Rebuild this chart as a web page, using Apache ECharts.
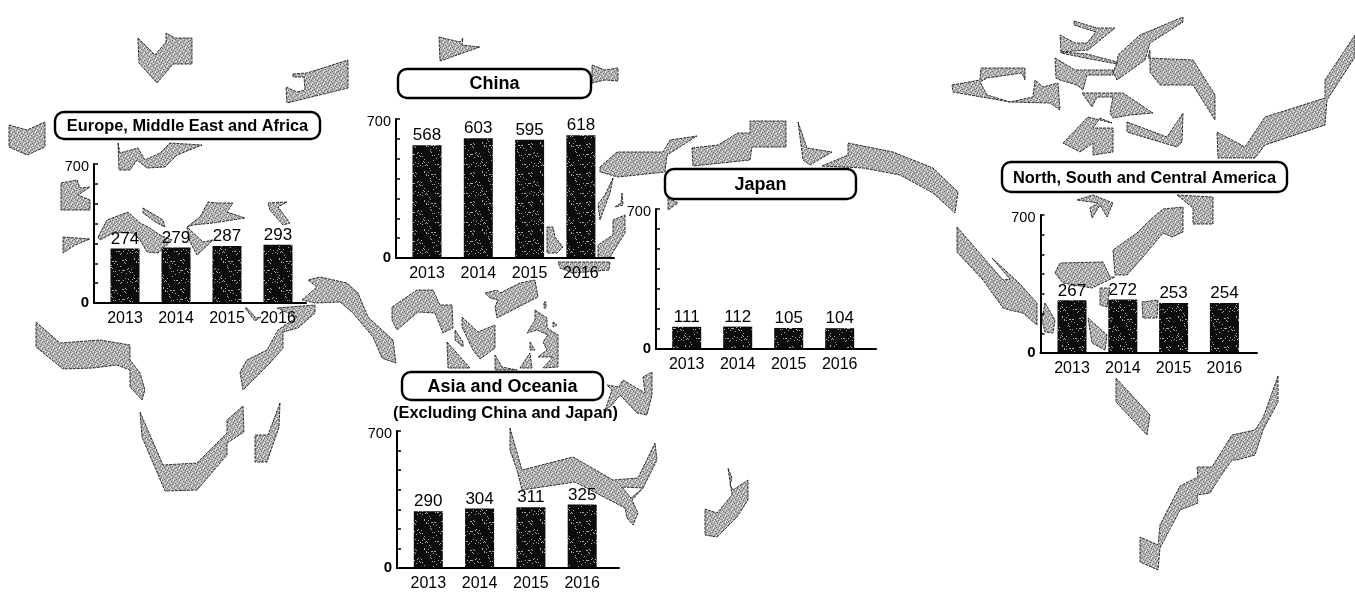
<!DOCTYPE html>
<html>
<head>
<meta charset="utf-8">
<style>html,body{margin:0;padding:0;background:#fff}#chart{width:1355px;height:592px}</style>
<script src="https://cdn.jsdelivr.net/npm/echarts@6/dist/echarts.min.js"></script>
</head>
<body>
<div id="chart"></div>
<script>
// Net sales by region, fiscal years 2013 to 2016
const years = [2013, 2014, 2015, 2016];
const europeValues = [274, 279, 287, 293];
const chinaValues = [568, 603, 595, 618];
const japanValues = [111, 112, 105, 104];
const asiaValues = [290, 304, 311, 325];
const americasValues = [267, 272, 253, 254];
const yTickLabels = [0, 700];

// Background world map, one outline per land mass, in canvas units
const landOutlines = [
  [[138,38],[155,55],[166,42],[166,33],[175,38],[192,38],[192,64],[173,64],[157,83],[139,63]],
  [[293,74],[307,73],[348,60],[348,88],[287,103],[286,87],[297,92],[305,90],[304,77],[293,77]],
  [[439,37],[460,42],[463,38],[462,45],[480,47],[440,61]],
  [[592,65],[605,70],[618,68],[618,81],[605,80],[592,83]],
  [[9,125],[27,130],[45,122],[45,147],[27,155],[9,147]],
  [[118,143],[120,153],[138,148],[145,160],[160,153],[170,143],[202,145],[177,155],[165,167],[147,168],[137,160],[130,170],[119,170]],
  [[61,183],[77,180],[80,188],[90,187],[78,195],[90,200],[90,210],[73,210],[61,210]],
  [[63,237],[90,239],[75,245],[63,253]],
  [[98,237],[107,220],[128,212],[140,223],[150,228],[160,235],[172,240],[158,253],[147,252],[140,240],[133,233],[115,232],[100,240]],
  [[143,208],[163,220],[165,227],[157,223],[143,213]],
  [[200,217],[208,202],[217,203],[233,203],[227,212],[245,218],[213,223],[193,225],[187,227],[203,242],[213,240],[197,255],[190,242],[187,227]],
  [[268,203],[287,202],[278,207],[290,223],[283,225],[270,210]],
  [[302,300],[317,287],[308,280],[320,277],[347,283],[358,293],[368,317],[382,330],[393,340],[396,363],[387,360],[382,358],[373,337],[353,313],[340,302],[315,303]],
  [[315,305],[315,313],[298,328],[283,332],[283,348],[270,363],[243,390],[240,372],[247,360],[267,350],[278,330],[297,317],[277,308]],
  [[245,308],[247,308],[256,318],[261,317],[255,321]],
  [[36,322],[60,343],[100,340],[130,345],[130,360],[140,373],[145,390],[142,400],[130,387],[130,370],[117,365],[93,368],[63,369],[36,347]],
  [[140,412],[163,465],[197,463],[227,433],[227,420],[243,406],[244,432],[227,443],[227,455],[197,490],[165,491],[142,437]],
  [[280,403],[279,427],[267,462],[255,462],[255,435],[268,435]],
  [[392,307],[417,290],[433,290],[440,305],[452,305],[453,328],[443,333],[435,313],[418,312],[397,330],[392,320]],
  [[455,330],[463,342],[463,347],[455,340]],
  [[462,317],[478,332],[495,325],[495,348],[480,359],[473,350],[462,327]],
  [[485,293],[497,290],[500,293],[520,283],[535,280],[538,297],[497,318],[495,307],[498,300],[490,298]],
  [[535,310],[547,318],[547,328],[558,335],[558,367],[543,368],[553,357],[538,357],[547,350],[543,342],[548,335],[537,330],[527,333],[535,320]],
  [[530,342],[535,350],[530,350]],
  [[553,322],[557,325],[553,327]],
  [[544,302],[546,302],[546,308],[544,308]],
  [[447,342],[470,368],[448,368]],
  [[495,355],[502,367],[517,370],[495,370]],
  [[520,368],[530,353],[532,368]],
  [[607,385],[619,387],[623,380],[645,393],[643,377],[652,372],[652,395],[647,415],[637,413],[620,395],[612,405],[605,410],[612,390]],
  [[600,167],[617,152],[663,152],[670,140],[697,136],[667,155],[665,172],[618,177],[600,172]],
  [[692,148],[718,145],[738,133],[750,133],[750,121],[786,121],[786,147],[752,147],[750,160],[693,166]],
  [[798,122],[807,148],[832,152],[810,165],[803,160]],
  [[822,166],[848,155],[848,143],[893,152],[933,168],[958,192],[955,213],[933,193],[900,175],[863,168]],
  [[613,178],[610,193],[600,220],[598,204],[605,195]],
  [[625,215],[625,233],[610,257],[598,258],[598,245],[613,235],[613,220]],
  [[558,262],[610,262],[609,270],[573,273],[560,268]],
  [[547,227],[553,227],[555,237],[563,247],[557,253],[547,253]],
  [[622,193],[623,205],[615,207],[621,203]],
  [[668,198],[678,203],[668,210]],
  [[1074,21],[1097,28],[1115,28],[1088,50],[1061,52],[1060,35],[1075,43],[1087,43],[1096,32],[1074,25]],
  [[1061,52],[1087,54],[1117,62],[1117,64],[1085,58],[1061,53]],
  [[1117,63],[1118,55],[1140,35],[1183,17],[1183,22],[1150,43],[1145,60],[1117,80],[1113,72]],
  [[1150,50],[1148,58],[1193,60],[1215,95],[1215,120],[1193,85],[1160,85],[1150,72]],
  [[1055,58],[1075,70],[1113,70],[1113,75],[1087,75],[1083,90],[1077,85],[1060,80],[1056,78]],
  [[952,85],[980,80],[981,68],[1025,68],[1025,80],[1022,73],[987,78],[980,82],[987,95],[1010,102],[1033,97],[1035,80],[1043,87],[1058,83],[1060,110],[1050,103],[1010,102],[953,92]],
  [[1082,93],[1123,93],[1153,113],[1130,115],[1113,118],[1110,113],[1113,97],[1097,97],[1092,107]],
  [[1063,143],[1088,117],[1112,123],[1100,118],[1093,128],[1113,128],[1113,152],[1093,155],[1093,143],[1080,152]],
  [[1127,122],[1167,137],[1183,113],[1182,142],[1177,147],[1127,132]],
  [[1217,132],[1245,147],[1265,117],[1325,98],[1325,80],[1355,35],[1355,57],[1327,100],[1325,125],[1265,145],[1255,158],[1218,158]],
  [[1177,195],[1213,197],[1213,224],[1193,224],[1193,208]],
  [[1183,207],[1183,232],[1172,237],[1163,233],[1143,257],[1127,275],[1115,275],[1113,250],[1137,233],[1150,220],[1163,209]],
  [[1077,200],[1093,195],[1113,203],[1107,217],[1100,205],[1092,218],[1090,208],[1098,203]],
  [[1055,273],[1060,263],[1103,262],[1110,277],[1115,277],[1092,288],[1063,283]],
  [[957,227],[983,257],[1003,280],[1010,279],[992,258],[1020,284],[1037,303],[1037,325],[1023,313],[1010,310],[1003,308],[983,280],[957,252]],
  [[1045,303],[1055,320],[1053,333],[1045,332],[1042,320]],
  [[1088,318],[1107,335],[1105,350],[1092,343]],
  [[1100,288],[1110,288],[1107,307],[1100,305]],
  [[1142,302],[1158,300],[1157,318],[1143,318]],
  [[1116,378],[1150,415],[1147,435],[1116,402]],
  [[1278,376],[1278,402],[1263,430],[1255,455],[1237,460],[1232,460],[1220,477],[1210,493],[1197,495],[1198,503],[1180,510],[1160,548],[1158,570],[1140,562],[1140,537],[1158,545],[1160,525],[1180,486],[1198,477],[1197,467],[1212,467],[1232,435],[1255,430],[1263,418]],
  [[510,428],[522,470],[573,457],[613,480],[638,478],[655,443],[657,460],[643,488],[622,487],[631,498],[643,488],[632,500],[638,513],[633,525],[627,518],[625,508],[600,495],[575,482],[522,490],[517,470],[510,450]],
  [[728,468],[732,478],[730,485],[733,490],[748,480],[748,500],[737,517],[717,537],[705,535],[705,509],[717,513],[732,495]]
];

// Repeating fills: stippled grey for land, fine speckle for bars
function landTile() {
  const c = document.createElement('canvas'); c.width = c.height = 6;
  const g = c.getContext('2d');
  g.fillStyle = '#b0b0b0'; g.fillRect(0, 0, 6, 6);
  g.fillStyle = '#747474';
  [[0,0],[3,1],[1,3],[4,4],[2,5],[5,2]].forEach(p => g.fillRect(p[0], p[1], 1, 1));
  g.fillStyle = '#e4e4e4';
  [[2,1],[5,0],[0,4],[3,3],[5,5],[1,2]].forEach(p => g.fillRect(p[0], p[1], 1, 1));
  return c;
}
function barTile() {
  const c = document.createElement('canvas'); c.width = c.height = 29;
  const g = c.getContext('2d');
  g.fillStyle = '#0c0c0c'; g.fillRect(0, 0, 29, 29);
  g.fillStyle = '#a8a8a8';
  for (let i = 0; i < 60; i++) g.fillRect((i * 17 + (i * i) % 5) % 29, (i * 11 + (i * i * 3) % 7) % 29, 1, 1);
  return c;
}
const landFill = { image: landTile(), repeat: 'repeat' };
const barFill = { image: barTile(), repeat: 'repeat' };

const FONT = '"Liberation Sans", Arial, sans-serif';

const panels = [
  { values: europeValues,   left: 94,  right: 306,  top: 164, bottom: 303, first: 125,   step: 51 },
  { values: chinaValues,    left: 396, right: 614,  top: 119, bottom: 258, first: 427,   step: 51.3 },
  { values: japanValues,    left: 656, right: 876,  top: 209, bottom: 349, first: 686.7, step: 51 },
  { values: asiaValues,     left: 397, right: 619,  top: 431, bottom: 571, first: 428.3, step: 51.3 },
  { values: americasValues, left: 1040.5, right: 1257, top: 215, bottom: 353, first: 1072, step: 50.8 }
];

const grids = [{ left: 0, top: 0, width: 1355, height: 592 }];
const xAxes = [{ type: 'value', gridIndex: 0, min: 0, max: 1355, show: false }];
const yAxes = [{ type: 'value', gridIndex: 0, min: 0, max: 592, inverse: true, show: false }];
const series = [{
  type: 'custom', xAxisIndex: 0, yAxisIndex: 0, z: 1, silent: true, clip: false,
  data: landOutlines.map((_, i) => [i]),
  renderItem: (params, api) => ({
    type: 'polygon',
    shape: { points: landOutlines[api.value(0)].map(p => api.coord(p)) },
    style: { fill: landFill, stroke: '#1c1c1c', lineWidth: 0.9, lineDash: [3, 1] }
  })
}];

panels.forEach((p, i) => {
  const n = i + 1;
  grids.push({ left: p.left, top: p.top, width: p.right - p.left, height: p.bottom - p.top });
  xAxes.push({
    type: 'value', gridIndex: n, z: 4,
    min: years[0] - (p.first - p.left) / p.step,
    max: years[0] + (p.right - p.first) / p.step,
    splitLine: { show: false },
    axisTick: { show: false },
    axisLine: { onZero: false, lineStyle: { color: '#000', width: 2 } },
    axisLabel: {
      customValues: years, formatter: v => String(v), margin: 8, color: '#000',
      fontFamily: FONT, fontSize: 16
    }
  });
  yAxes.push({
    type: 'value', gridIndex: n, z: 4, min: 0, max: 700, interval: 100,
    splitLine: { show: false },
    axisLine: { show: true, lineStyle: { color: '#000', width: 2 } },
    axisTick: { show: true, inside: true, length: 4, lineStyle: { color: '#000', width: 1.5 } },
    axisLabel: {
      margin: 5, color: '#000', fontFamily: FONT, fontSize: 14.5,
      formatter: v => {
        if (!yTickLabels.includes(v)) return '';
        return v === 0 ? '{zero|0}' : '{top|' + v + '}';
      },
      rich: {
        zero: { fontFamily: FONT, fontSize: 15, fontWeight: 'bold', color: '#000' },
        top: { fontFamily: FONT, fontSize: 14.5, color: '#000', padding: [6, 0, 0, 0] }
      }
    }
  });
  series.push({
    type: 'bar', xAxisIndex: n, yAxisIndex: n, z: 3, barWidth: 29, silent: true,
    data: p.values.map((v, k) => [years[k], v]),
    itemStyle: { color: barFill },
    label: {
      show: true, position: 'top', distance: 1, color: '#000',
      fontFamily: FONT, fontSize: 17,
      formatter: d => String(d.value[1])
    }
  });
});

// Rounded region captions
function caption(x0, x1, y0, y1, text, size) {
  return {
    type: 'group', z: 5,
    children: [
      { type: 'rect', shape: { x: x0, y: y0, width: x1 - x0, height: y1 - y0, r: 9 },
        style: { fill: '#fff', stroke: '#000', lineWidth: 2.4 }, z: 5 },
      { type: 'text', x: (x0 + x1) / 2, y: (y0 + y1) / 2 + 1, z: 6,
        style: { text, fill: '#000', font: 'bold ' + size + 'px ' + FONT, align: 'center', verticalAlign: 'middle' } }
    ]
  };
}

const chart = echarts.init(document.getElementById('chart'), null, { renderer: 'canvas' });
chart.setOption({
  animation: false,
  backgroundColor: '#fff',
  grid: grids,
  xAxis: xAxes,
  yAxis: yAxes,
  series,
  graphic: [
    caption(55, 320, 112, 139, 'Europe, Middle East and Africa', 16.4),
    caption(398, 591, 69, 98, 'China', 18),
    caption(665, 856, 169, 199, 'Japan', 18),
    caption(402, 603, 372, 400, 'Asia and Oceania', 18),
    caption(1002, 1287, 162, 192, 'North, South and Central America', 16.4),
    { type: 'text', x: 505.5, y: 413, z: 6,
      style: { text: '(Excluding China and Japan)', fill: '#000', font: 'bold 16.4px ' + FONT, align: 'center', verticalAlign: 'middle' } }
  ]
});
</script>
</body>
</html>
